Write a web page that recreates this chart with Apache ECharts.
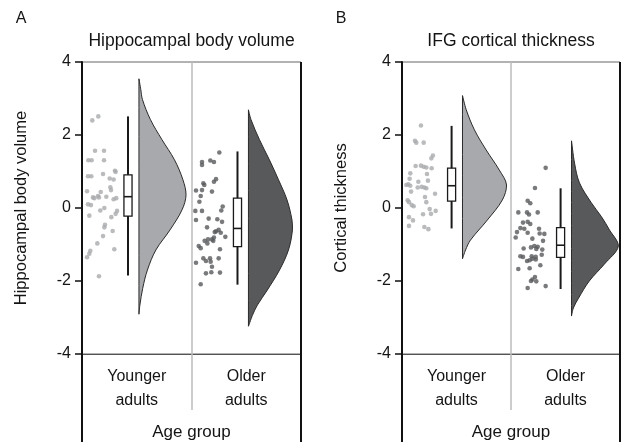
<!DOCTYPE html>
<html>
<head>
<meta charset="utf-8">
<script src="https://cdn.jsdelivr.net/npm/echarts@6/dist/echarts.min.js"></script>
<style>
  html, body { margin: 0; padding: 0; background: #fff; }
  #chart { width: 621px; height: 442px; }
</style>
</head>
<body>
<div id="chart"></div>
<script>
// Categories and axis
const groups = ['Younger\nadults', 'Older\nadults'];
const yMin = -4, yMax = 4, yStep = 2;

// Panel A: hippocampal body volume. Dots are [jitter inside group, value]
const hippoYoungDots = [
    [0.149, 2.51], [0.094, 2.40], [0.119, 1.57], [0.201, 1.57], [0.058, 1.31], [0.088, 1.31],
    [0.201, 1.31], [0.055, 0.87], [0.085, 0.87], [0.192, 0.93], [0.301, 1.02], [0.307, 0.99],
    [0.253, 0.81], [0.289, 0.78], [0.259, 0.57], [0.265, 0.49], [0.171, 0.44], [0.046, 0.46],
    [0.146, 0.33], [0.113, 0.27], [0.100, 0.29], [0.155, 0.29], [0.222, 0.31], [0.313, 0.27],
    [0.289, 0.24], [0.055, 0.10], [0.082, 0.08], [0.204, 0.00], [0.167, -0.07], [0.067, -0.21],
    [0.320, -0.08], [0.307, -0.16], [0.268, -0.25], [0.210, -0.46], [0.204, -0.53], [0.280, -0.63],
    [0.192, -0.77], [0.140, -0.97], [0.076, -1.17], [0.067, -1.25], [0.046, -1.35], [0.295, -1.13],
    [0.155, -1.87]
];
const hippoOldDots = [
    [0.254, 1.52], [0.096, 1.26], [0.096, 1.18], [0.172, 1.30], [0.205, 1.26], [0.224, 0.79],
    [0.205, 0.72], [0.108, 0.68], [0.117, 0.63], [0.041, 0.48], [0.096, 0.49], [0.187, 0.45],
    [0.084, 0.33], [0.072, 0.17], [0.285, 0.04], [0.272, -0.07], [0.035, -0.08], [0.096, -0.08],
    [0.041, -0.33], [0.157, -0.29], [0.236, -0.31], [0.279, -0.38], [0.142, -0.53], [0.248, -0.60],
    [0.224, -0.64], [0.212, -0.66], [0.267, -0.68], [0.309, -0.79], [0.066, -1.04], [0.084, -1.10],
    [0.120, -0.90], [0.151, -0.86], [0.145, -0.97], [0.187, -0.86], [0.205, -0.81], [0.199, -0.90],
    [0.260, -1.13], [0.108, -1.38], [0.132, -1.45], [0.169, -1.38], [0.175, -1.47], [0.248, -1.38],
    [0.041, -1.50], [0.187, -1.61], [0.132, -1.79], [0.181, -1.76], [0.260, -1.77], [0.084, -2.09]
];
// box stats: [whisker low, q1, median, q3, whisker high]
const hippoBoxes = [
    [-1.85, -0.22, 0.31, 0.91, 2.51],
    [-2.10, -1.06, -0.56, 0.27, 1.55]
];
// density outlines: [value, relative density]
const hippoYoungDensity = [
    [3.54, 0], [3.24, 0.04], [2.97, 0.075], [2.42, 0.245], [1.87, 0.49], [1.32, 0.755],
    [0.77, 0.935], [0.36, 1.0], [-0.05, 0.915], [-0.60, 0.66], [-1.15, 0.36], [-1.70, 0.18],
    [-2.20, 0.08], [-2.66, 0.02], [-2.91, 0]
];
const hippoOldDensity = [
    [2.69, 0], [2.42, 0.055], [1.87, 0.235], [1.32, 0.445], [0.77, 0.64], [0.22, 0.82],
    [-0.33, 0.925], [-0.60, 0.935], [-1.15, 0.85], [-1.70, 0.66], [-2.25, 0.40], [-2.66, 0.19],
    [-2.94, 0.085], [-3.24, 0]
];

// Panel B: IFG cortical thickness
const ifgYoungDots = [
    [0.174, 2.26], [0.119, 1.84], [0.131, 1.79], [0.199, 1.79], [0.284, 1.44], [0.269, 1.36],
    [0.125, 1.15], [0.174, 1.16], [0.199, 1.13], [0.223, 1.11], [0.272, 1.09], [0.076, 0.95],
    [0.229, 0.93], [0.070, 0.80], [0.150, 0.72], [0.238, 0.75], [0.058, 0.65], [0.040, 0.63],
    [0.076, 0.61], [0.180, 0.58], [0.205, 0.56], [0.144, 0.56], [0.223, 0.54], [0.083, 0.45],
    [0.303, 0.39], [0.211, 0.30], [0.052, 0.21], [0.064, 0.16], [0.223, 0.16], [0.089, 0.08],
    [0.107, 0.05], [0.254, -0.03], [0.309, -0.08], [0.266, -0.16], [0.193, -0.17], [0.064, -0.25],
    [0.101, -0.34], [0.064, -0.49], [0.205, -0.52], [0.242, -0.58]
];
const ifgOldDots = [
    [0.318, 1.10], [0.220, 0.55], [0.153, 0.20], [0.177, 0.13], [0.067, -0.12], [0.147, -0.12],
    [0.245, -0.12], [0.165, -0.18], [0.110, -0.40], [0.153, -0.38], [0.177, -0.44], [0.086, -0.55],
    [0.122, -0.57], [0.257, -0.57], [0.055, -0.66], [0.153, -0.68], [0.263, -0.70], [0.306, -0.71],
    [0.043, -0.81], [0.196, -0.84], [0.294, -0.90], [0.116, -1.11], [0.183, -1.08], [0.214, -1.04],
    [0.245, -1.06], [0.232, -1.12], [0.287, -1.14], [0.086, -1.32], [0.190, -1.32], [0.110, -1.34],
    [0.227, -1.34], [0.196, -1.39], [0.282, -1.28], [0.171, -1.43], [0.147, -1.45], [0.227, -1.41],
    [0.067, -1.67], [0.171, -1.65], [0.269, -1.57], [0.220, -1.89], [0.196, -1.96], [0.183, -2.00],
    [0.232, -2.01], [0.153, -2.19], [0.318, -2.14]
];
const ifgBoxes = [
    [-0.56, 0.19, 0.61, 1.09, 2.25],
    [-2.22, -1.35, -1.02, -0.54, 0.54]
];
const ifgYoungDensity = [
    [3.08, 0], [2.69, 0.08], [2.14, 0.255], [1.59, 0.505], [1.04, 0.785], [0.63, 0.94],
    [0.22, 0.85], [-0.33, 0.53], [-0.88, 0.17], [-1.15, 0.065], [-1.39, 0]
];
const ifgOldDensity = [
    [1.84, 0], [1.23, 0.065], [0.69, 0.17], [0.14, 0.425], [-0.24, 0.64], [-0.60, 0.81],
    [-1.04, 1.0], [-1.54, 0.70], [-2.00, 0.38], [-2.47, 0.15], [-2.74, 0.04], [-2.96, 0]
];

// Layout / style
const FONT = "'Liberation Sans', Arial, sans-serif";
const TEXT = '#141414';
const plotTop = 62, plotHeight = 292, pageBottom = 442;
const panels = [
    { letter: 'A', title: 'Hippocampal body volume', yName: 'Hippocampal body volume',
      left: 82, width: 219, boxAt: 0.42, violinAt: 0.52,
      dots: [hippoYoungDots, hippoOldDots], boxes: hippoBoxes,
      density: [hippoYoungDensity, hippoOldDensity] },
    { letter: 'B', title: 'IFG cortical thickness', yName: 'Cortical thickness',
      left: 402, width: 218, boxAt: 0.455, violinAt: 0.555,
      dots: [ifgYoungDots, ifgOldDots], boxes: ifgBoxes,
      density: [ifgYoungDensity, ifgOldDensity] }
];
const dotColors = ['#a9aaac', '#58595b'];
const violinColors = ['#a7a9ac', '#58595b'];
const BOX_HALF = 0.037;
const VIOLIN_W = 0.43;

const chart = echarts.init(document.getElementById('chart'), null, { renderer: 'canvas' });

const grids = [], xAxes = [], yAxes = [], series = [], graphics = [];

panels.forEach((p, pi) => {
    grids.push({
        left: p.left, top: plotTop, width: p.width, height: plotHeight,
        outerBoundsMode: 'none', containLabel: false,
        show: true, borderColor: '#666', borderWidth: 1, backgroundColor: 'transparent'
    });

    // value axis used for placing marks (hidden)
    xAxes.push({
        gridIndex: pi, type: 'value', min: 0, max: groups.length, show: false
    });
    // category axis for labels, separators and the bottom line
    xAxes.push({
        gridIndex: pi, type: 'category', data: groups, boundaryGap: true, position: 'bottom',
        axisLine: { show: true, onZero: false, lineStyle: { color: '#555', width: 1.2 } },
        axisTick: { show: true, inside: false, length: 56, alignWithLabel: false,
                    lineStyle: { color: '#bcbcbc', width: 1.5 } },
        splitLine: { show: true, lineStyle: { color: '#bcbcbc', width: 1.5 } },
        axisLabel: { margin: 11, lineHeight: 23.5, fontSize: 16, color: TEXT, fontFamily: FONT },
        name: 'Age group', nameLocation: 'middle', nameGap: 70,
        nameTextStyle: { fontSize: 17, color: TEXT, fontFamily: FONT }
    });

    yAxes.push({
        gridIndex: pi, type: 'value', min: yMin, max: yMax, interval: yStep,
        axisLine: { show: true, onZero: false, lineStyle: { color: '#111', width: 2 } },
        axisTick: { show: true, length: 7, lineStyle: { color: '#111', width: 1.5 } },
        splitLine: { show: false },
        axisLabel: { margin: 11, fontSize: 16, color: TEXT, fontFamily: FONT },
        name: p.yName, nameLocation: 'middle', nameGap: 52,
        nameTextStyle: { fontSize: 16.5, color: TEXT, fontFamily: FONT }
    });

    const xi = pi * 2;

    // rain: jittered dots
    p.dots.forEach((dots, gi) => {
        series.push({
            type: 'scatter', xAxisIndex: xi, yAxisIndex: pi, silent: true, z: 3,
            symbolSize: 4.6, itemStyle: { color: dotColors[gi] },
            data: dots.map(d => [gi + d[0], d[1]])
        });
    });

    // boxes
    series.push({
        type: 'custom', xAxisIndex: xi, yAxisIndex: pi, silent: true, z: 4,
        data: p.boxes.map((b, gi) => [gi + p.boxAt].concat(b)),
        renderItem: (params, api) => {
            const x = api.value(0);
            const lo = api.coord([x, api.value(1)]);
            const q1 = api.coord([x, api.value(2)]);
            const med = api.coord([x, api.value(3)]);
            const q3 = api.coord([x, api.value(4)]);
            const hi = api.coord([x, api.value(5)]);
            const half = api.size([BOX_HALF, 0])[0];
            return {
                type: 'group',
                children: [
                    { type: 'line', shape: { x1: lo[0], y1: lo[1], x2: hi[0], y2: hi[1] },
                      style: { stroke: '#1a1a1a', lineWidth: 2 } },
                    { type: 'rect', shape: { x: q3[0] - half, y: q3[1], width: 2 * half, height: q1[1] - q3[1] },
                      style: { fill: '#fff', stroke: '#1a1a1a', lineWidth: 1.3 } },
                    { type: 'line', shape: { x1: med[0] - half, y1: med[1], x2: med[0] + half, y2: med[1] },
                      style: { stroke: '#1a1a1a', lineWidth: 1.6 } }
                ]
            };
        }
    });

    // clouds: half violins
    p.density.forEach((prof, gi) => {
        series.push({
            type: 'custom', xAxisIndex: xi, yAxisIndex: pi, silent: true, z: 2,
            data: [[gi + p.violinAt, prof[0][0]]],
            renderItem: (params, api) => {
                const x0 = api.value(0);
                const pts = prof.map(d => api.coord([x0 + d[1] * VIOLIN_W, d[0]]));
                const xs = pts.map(q => q[0]), ys = pts.map(q => q[1]);
                const bounds = [[Math.min(...xs), Math.min(...ys)], [Math.max(...xs), Math.max(...ys)]];
                return {
                    type: 'polygon',
                    shape: { points: pts, smooth: 0.35, smoothConstraint: bounds },
                    style: { fill: violinColors[gi], stroke: '#2a2a2a', lineWidth: 1 }
                };
            }
        });
    });

    const right = p.left + p.width;
    const bottom = plotTop + plotHeight;
    graphics.push(
        { type: 'line', z: 100, shape: { x1: p.left, y1: bottom, x2: p.left, y2: pageBottom },
          style: { stroke: '#111', lineWidth: 2 } },
        { type: 'line', z: 100, shape: { x1: right, y1: plotTop, x2: right, y2: pageBottom },
          style: { stroke: '#111', lineWidth: 2 } },
        { type: 'text', z: 100, x: p.left - 61, y: 18.5,
          style: { text: p.letter, font: '500 16px ' + FONT, fill: TEXT,
                   textAlign: 'center', textVerticalAlign: 'middle', align: 'center', verticalAlign: 'middle' } },
        { type: 'text', z: 100, x: p.left + p.width / 2, y: 41,
          style: { text: p.title, font: '17.5px ' + FONT, fill: TEXT,
                   textAlign: 'center', textVerticalAlign: 'middle', align: 'center', verticalAlign: 'middle' } }
    );
});

chart.setOption({
    backgroundColor: '#fff',
    animation: false,
    grid: grids,
    xAxis: xAxes,
    yAxis: yAxes,
    series: series,
    graphic: { elements: graphics }
});
</script>
</body>
</html>
